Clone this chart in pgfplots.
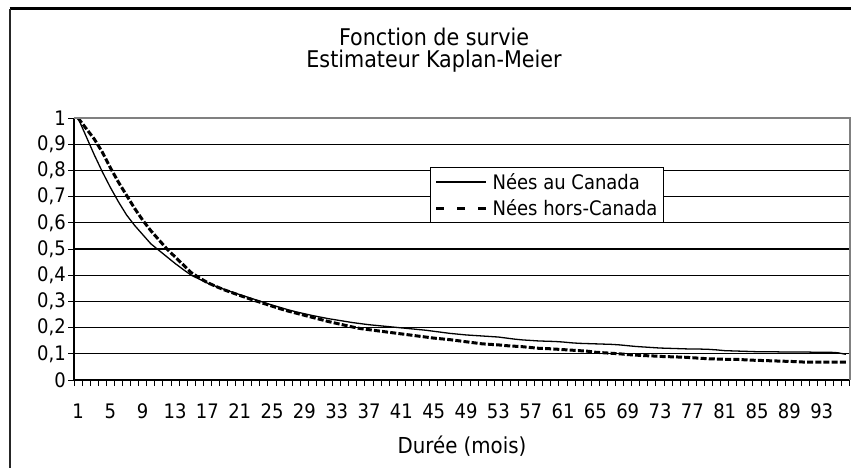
\documentclass[border=0pt]{standalone}
\usepackage{fontspec}
\setmainfont{DejaVu Sans Condensed}
\usepackage{pgfplots}
\usepackage{pgfplotstable}
\pgfplotsset{compat=1.18}
\pgfplotstableread{
i can hors
1 1.000 1.000
2 0.930 0.960
3 0.860 0.920
4 0.795 0.870
5 0.735 0.810
6 0.680 0.755
7 0.630 0.705
8 0.590 0.655
9 0.555 0.610
10 0.520 0.570
11 0.495 0.535
12 0.470 0.500
13 0.445 0.470
14 0.422 0.440
15 0.400 0.410
16 0.385 0.390
17 0.370 0.372
18 0.358 0.358
19 0.347 0.345
20 0.336 0.334
21 0.326 0.323
22 0.316 0.312
23 0.306 0.302
24 0.296 0.292
25 0.286 0.282
26 0.277 0.272
27 0.268 0.263
28 0.260 0.255
29 0.253 0.247
30 0.246 0.239
31 0.240 0.231
32 0.234 0.223
33 0.229 0.216
34 0.224 0.209
35 0.219 0.202
36 0.215 0.196
37 0.211 0.192
38 0.208 0.188
39 0.205 0.184
40 0.202 0.180
41 0.199 0.176
42 0.196 0.172
43 0.193 0.168
44 0.190 0.164
45 0.186 0.160
46 0.182 0.157
47 0.178 0.154
48 0.175 0.150
49 0.172 0.146
50 0.170 0.142
51 0.168 0.138
52 0.166 0.136
53 0.164 0.134
54 0.160 0.131
55 0.156 0.129
56 0.153 0.127
57 0.151 0.124
58 0.149 0.121
59 0.148 0.120
60 0.147 0.118
61 0.145 0.116
62 0.142 0.114
63 0.140 0.112
64 0.139 0.110
65 0.138 0.106
66 0.137 0.104
67 0.136 0.102
68 0.134 0.100
69 0.131 0.097
70 0.128 0.095
71 0.126 0.093
72 0.124 0.092
73 0.122 0.090
74 0.121 0.089
75 0.120 0.088
76 0.119 0.087
77 0.118 0.085
78 0.118 0.083
79 0.117 0.081
80 0.115 0.080
81 0.112 0.079
82 0.111 0.079
83 0.110 0.078
84 0.109 0.076
85 0.108 0.075
86 0.108 0.074
87 0.108 0.073
88 0.107 0.072
89 0.107 0.071
90 0.107 0.070
91 0.107 0.068
92 0.106 0.068
93 0.106 0.068
94 0.106 0.068
95 0.104 0.068
96 0.098 0.068
}\datatable
\newcommand\cf{\fontsize{22}{26}\selectfont}
\newcommand\tf{\fontsize{20}{24}\selectfont}
\newcommand\ttl{\fontsize{23}{26}\selectfont}
\begin{document}
\begin{tikzpicture}
\useasboundingbox (0pt,0pt) rectangle (851pt,-468pt);
\fill[white] (0pt,0pt) rectangle (851pt,-468pt);
\draw[black, line width=2.6pt] (9.5pt,-8.7pt) -- (851pt,-8.7pt);
\draw[black!85, line width=1.4pt] (10pt,-8.7pt) -- (10pt,-468pt);
\node[font=\ttl, anchor=base, inner sep=0pt] at (434pt,-46pt) {Fonction de survie};
\node[font=\ttl, anchor=base, inner sep=0pt] at (434pt,-68pt) {Estimateur Kaplan-Meier};
\begin{axis}[
  at={(74pt,-380pt)}, anchor=south west,
  scale only axis, width=776pt, height=262pt,
  xmin=0.5, xmax=96.5, ymin=0, ymax=1,
  axis lines*=left,
  axis line style={black, line width=1.2pt},
  xtick={1,5,...,93},
  minor xtick={0.5,1.5,...,96.5},
  major x tick style={draw=none},
  minor x tick style={black, line width=1pt},
  minor tick length=6pt,
  ytick={0,0.1,...,1.01},
  major y tick style={black, line width=1pt},
  major tick length=6pt,
  tick align=outside,
  ymajorgrids,
  grid style={black, line width=1.1pt},
  /pgf/number format/assume math mode=true,
  yticklabel style={/pgf/number format/.cd, use comma, fixed, precision=1, /tikz/.cd, font=\tf, inner sep=2pt},
  xticklabel style={font=\tf, yshift=-14pt},
  xlabel={Durée (mois)},
  xlabel style={font=\cf, at={(axis description cs:0.5,0)}, anchor=center, yshift=-66pt},
  legend style={at={(0.4588,0.812)}, anchor=north west, draw=black, line width=1.2pt,
    font=\tf, inner xsep=4pt, inner ysep=3.5pt, row sep=5pt,
    /tikz/every odd column/.append style={column sep=3pt}},
  legend cell align=left,
  legend image code/.code={\draw[#1] (0pt,0pt) -- (50pt,0pt);},
  clip=false,
]
\addplot[black, line width=1.3pt] table[x=i, y=can] {\datatable};
\addlegendentry{Nées au Canada}
\addplot[black, line width=3pt, dash pattern=on 6pt off 2.2pt, legend image post style={dash pattern=on 8pt off 13pt}] table[x=i, y=hors] {\datatable};
\addlegendentry{Nées hors-Canada}
\draw[gray, line width=1.5pt] (rel axis cs:0,1) -- (rel axis cs:1,1) -- (rel axis cs:1,0);
\end{axis}
\end{tikzpicture}
\end{document}
